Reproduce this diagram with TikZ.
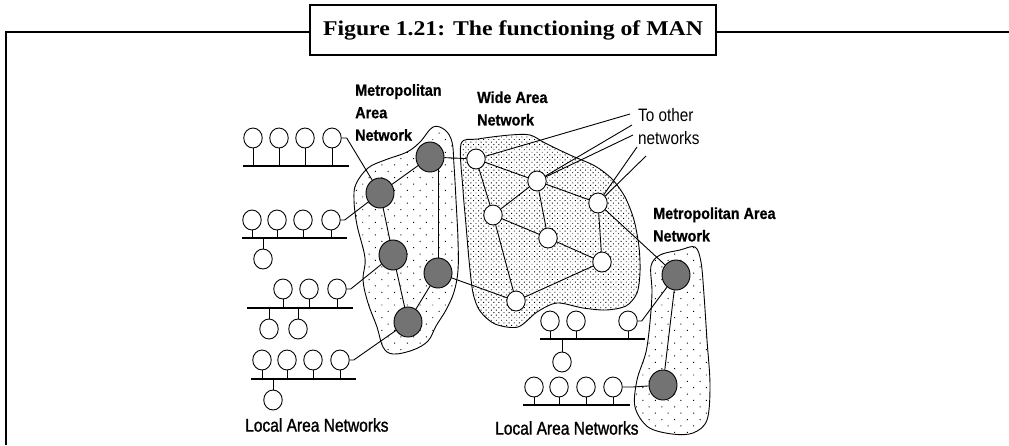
\documentclass[tikz,border=0pt]{standalone}
\usepackage{fontspec}
\setmainfont{Liberation Serif}
\newfontfamily\titlefont[FakeStretch=1.13]{Liberation Serif}
\newfontfamily\lblfont[FakeStretch=0.9,FakeBold=0.6]{Liberation Sans}
\newfontfamily\thinfont[FakeStretch=0.85]{Liberation Sans}
\newfontfamily\lanfont[FakeStretch=0.84,FakeBold=1.2]{Liberation Sans}
\usetikzlibrary{shapes.geometric,patterns.meta}
\pgfdeclarelayer{blobs}
\pgfdeclarelayer{edges}
\pgfsetlayers{blobs,edges,main}
\begin{document}
\begin{tikzpicture}[x=1pt,y=-1pt,
  lan/.style={draw,ellipse,minimum width=18.5pt,minimum height=20pt,inner sep=0pt,fill=white,line width=0.9pt},
  man/.style={draw,ellipse,minimum width=28pt,minimum height=30pt,inner sep=0pt,fill=black!55,line width=0.9pt},
  wire/.style={line width=0.9pt},
  bus/.style={line width=1.4pt},
  mblob/.style={draw,line width=0.9pt,fill=white,postaction={pattern={Dots[distance=9pt,angle=45,radius=0.7pt]}}},
  wblob/.style={draw,line width=0.9pt,fill=white,postaction={pattern={Dots[distance=3.6pt,angle=45,radius=0.65pt]}}},
  boldlbl/.style={font=\lblfont\bfseries\fontsize{16}{22.5}\selectfont,align=left,anchor=west,inner sep=0pt},
  thinlbl/.style={font=\thinfont\fontsize{18}{23}\selectfont,align=left,anchor=west,inner sep=0pt},
  lanlbl/.style={font=\lanfont\fontsize{18.5}{22}\selectfont,anchor=west,inner sep=0pt},
  frame/.style={line width=2pt}
]
\useasboundingbox (0,0) rectangle (1009,445);

% frame and title
\coordinate (fr) at (1009,32);
\coordinate (fc) at (6,32);
\coordinate (fb) at (6,445);
\draw[frame] (fr) -- (fc) -- (fb);
\node[draw,frame,fill=white,minimum width=406pt,minimum height=50pt,inner sep=0pt,
  font=\titlefont\bfseries\fontsize{21}{24}\selectfont] (title) at (513,30) {Figure 1.21: The functioning of MAN};

% MAN nodes
\node[man] (M1) at (380,193) {};
\node[man] (M2) at (430,157) {};
\node[man] (M3) at (393,255) {};
\node[man] (M4) at (438,273) {};
\node[man] (M5) at (408,322) {};
\node[man] (R1) at (676,275) {};
\node[man] (R2) at (663,385) {};

% WAN nodes
\node[lan] (W1) at (476,159) {};
\node[lan] (W2) at (537,181) {};
\node[lan] (W3) at (598,203) {};
\node[lan] (W4) at (493,215) {};
\node[lan] (W5) at (548,238) {};
\node[lan] (W6) at (602,262) {};
\node[lan] (W7) at (516,301) {};

% LAN 1
\node[lan] (L1a) at (253,138) {};
\node[lan] (L1b) at (279,138) {};
\node[lan] (L1c) at (305,138) {};
\node[lan] (L1d) at (332,138) {};
\coordinate (B1l) at (243,166); \coordinate (B1r) at (349,166);
% LAN 2
\node[lan] (L2a) at (252,220) {};
\node[lan] (L2b) at (277,220) {};
\node[lan] (L2c) at (303,220) {};
\node[lan] (L2d) at (331,220) {};
\node[lan] (L2e) at (263,259) {};
\coordinate (B2l) at (242,238); \coordinate (B2r) at (347,238);
% LAN 3
\node[lan] (L3a) at (283,289) {};
\node[lan] (L3b) at (309,289) {};
\node[lan] (L3c) at (337,289) {};
\node[lan] (L3d) at (269,329) {};
\node[lan] (L3e) at (298,329) {};
\coordinate (B3l) at (247,308); \coordinate (B3r) at (353,308);
% LAN 4
\node[lan] (L4a) at (262,360) {};
\node[lan] (L4b) at (287,360) {};
\node[lan] (L4c) at (313,360) {};
\node[lan] (L4d) at (340,360) {};
\node[lan] (L4e) at (273,400) {};
\coordinate (B4l) at (251,379); \coordinate (B4r) at (356,379);
% LAN 5
\node[lan] (L5a) at (550,321) {};
\node[lan] (L5b) at (576,321) {};
\node[lan] (L5c) at (628,321) {};
\node[lan] (L5d) at (562,362) {};
\coordinate (B5l) at (540,339); \coordinate (B5r) at (645,339);
% LAN 6
\node[lan] (L6a) at (534,387) {};
\node[lan] (L6b) at (559,387) {};
\node[lan] (L6c) at (586,387) {};
\node[lan] (L6d) at (613,387) {};
\coordinate (B6l) at (523,405); \coordinate (B6r) at (630,405);

% free ends of the "to other networks" lines
\coordinate (T1) at (630,114);
\coordinate (T2) at (632,125);
\coordinate (T3) at (633,135);
\coordinate (T4) at (637,147);
\coordinate (T5) at (646,156);

% labels
\node[boldlbl] (lmanl) at (355,112.5) {Metropolitan\\Area\\Network};
\node[boldlbl] (lwan) at (477,108.5) {Wide Area\\Network};
\node[thinlbl] (lother) at (638,126.5) {To other\\networks};
\node[boldlbl] (lmanr) at (653,224.5) {Metropolitan Area\\Network};
\node[lanlbl] (llan1) at (245,425) {Local Area Networks};
\node[lanlbl] (llan2) at (495,428) {Local Area Networks};

\begin{pgfonlayer}{blobs}
\path[mblob] plot[smooth cycle,tension=0.6] coordinates {
 (433,127) (445,130) (452,142) (454,165) (456,200) (458,240) (458,270) (454,292)
 (446,310) (436,326) (428,341) (413,350) (393,354) (383,347) (377,327) (368,303)
 (363,280) (365,258) (357,225) (354,200) (356,184) (368,168) (385,160) (407,152) (420,142)};
\path[wblob] plot[smooth cycle,tension=0.5] coordinates {
 (461,144) (478,139) (510,135) (530,135) (545,143) (570,155) (595,166) (612,179)
 (625,197) (634,220) (639,247) (640,272) (637,293) (626,306) (606,310) (583,308)
 (557,303) (537,312) (518,327) (495,324) (480,311) (473,293) (469,260) (466,225) (463,190)};
\path[mblob] plot[smooth cycle,tension=0.55] coordinates {
 (651,266) (660,255) (680,250) (695,247) (701,262) (704,295) (707,340) (710,385)
 (707,420) (693,433) (672,434) (648,427) (635,407) (637,380) (646,352) (650,322) (652,292)};
\end{pgfonlayer}

\begin{pgfonlayer}{edges}
% buses and stems
\foreach \b/\list in {1/{L1a,L1b,L1c,L1d},2/{L2a,L2b,L2c,L2d,L2e},3/{L3a,L3b,L3c,L3d,L3e},4/{L4a,L4b,L4c,L4d,L4e},5/{L5a,L5b,L5c,L5d},6/{L6a,L6b,L6c,L6d}}{
  \draw[bus] (B\b l) -- (B\b r);
  \foreach \n in \list {\draw[wire] (\n) -- (\n |- B\b l);}
}
% MAN links
\draw[wire] (M1) -- (M2);
\draw[wire] (M1) -- (M3);
\draw[wire] (M3) -- (M5);
\draw[wire] (M4) -- (M5);
\draw[wire] (M4) -- (M4 |- M2);
\draw[wire] (M2) -- (W1);
\draw[wire] (M4) -- (W7);
\draw[wire] (R1) -- (R2);
\draw[wire] (W3) -- (R1);
% WAN links
\draw[wire] (W1) -- (W2);
\draw[wire] (W2) -- (W3);
\draw[wire] (W1) -- (W4);
\draw[wire] (W4) -- (W7);
\draw[wire] (W2) -- (W4);
\draw[wire] (W2) -- (W5);
\draw[wire] (W4) -- (W5);
\draw[wire] (W3) -- (W6);
\draw[wire] (W5) -- (W6);
\draw[wire] (W7) -- (W6);
% LAN to MAN links
\draw[wire] (L1d.east) -- ++(5,0) -- (M1);
\draw[wire] (L2d.east) -- ++(4,0) -- (M1);
\draw[wire] (L3c.east) -- ++(4,0) -- (M3);
\draw[wire] (L4d.east) -- ++(4,0) -- (M5);
\draw[wire] (L5c.east) -- ++(4,0) -- (R1);
\draw[wire] (L6d.east) -- ++(10,0) -- (R2);
% to other networks
\draw[wire] (W1) -- (T1);
\draw[wire] (W2) -- (T2);
\draw[wire] (W2) -- (T3);
\draw[wire] (W3) -- (T4);
\draw[wire] (W3) -- (T5);
\end{pgfonlayer}
\end{tikzpicture}
\end{document}
